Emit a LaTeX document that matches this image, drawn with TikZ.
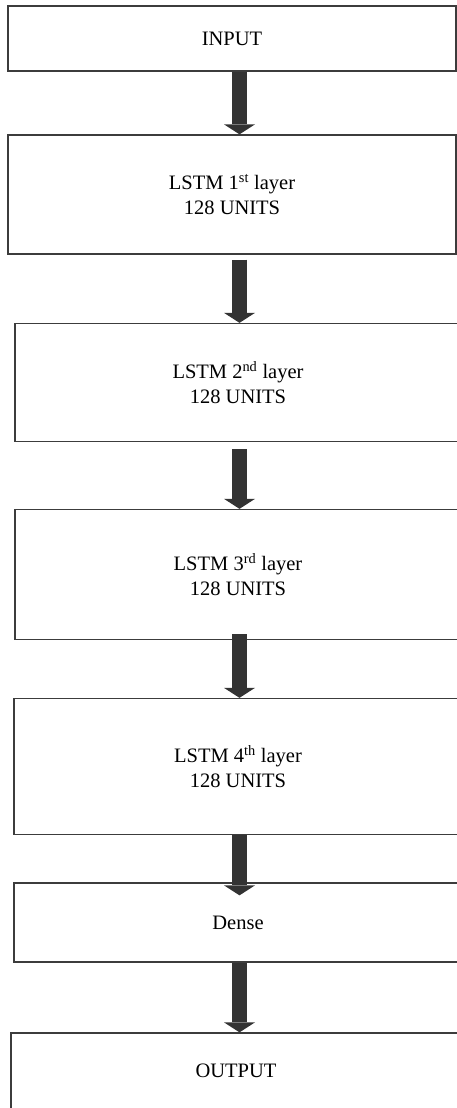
\documentclass[tikz,border=0pt]{standalone}
\usepackage{fontspec}
\setmainfont{Liberation Serif}
\usetikzlibrary{arrows.meta}
\definecolor{ink}{HTML}{333333}
\definecolor{edge}{HTML}{3C3C3C}
\tikzset{
  layerbox/.style={draw=edge, line width=1.3pt, rectangle, align=center,
    inner sep=0pt, font=\fontsize{20.5}{24.5}\selectfont},
  flow/.style={draw=ink, line width=15pt, line cap=butt,
    -{Triangle[width=31pt,length=10pt,line width=0pt,fill=ink]}}
}
\begin{document}
\begin{tikzpicture}[x=1pt,y=-1pt]
\useasboundingbox (0,0) rectangle (457,1108);
\clip (0,0) rectangle (457,1108);
% stacked network layers
\node[layerbox, minimum width=448pt, minimum height=65pt]  (in)    at (232,38.5)  {INPUT};
\node[layerbox, minimum width=448pt, minimum height=119pt] (l1)    at (232,194.5) {LSTM 1\textsuperscript{st} layer\\128 UNITS};
\node[layerbox, minimum width=446pt, minimum height=118pt] (l2)    at (238,382.5) {LSTM 2\textsuperscript{nd} layer\\128 UNITS};
\node[layerbox, minimum width=446pt, minimum height=130pt] (l3)    at (238,574.5) {LSTM 3\textsuperscript{rd} layer\\128 UNITS};
\node[layerbox, minimum width=448pt, minimum height=136pt] (l4)    at (238,766.5) {LSTM 4\textsuperscript{th} layer\\128 UNITS};
\node[layerbox, minimum width=448pt, minimum height=79pt]  (dense) at (238,922.5) {Dense};
\node[layerbox, minimum width=450pt, minimum height=76pt]  (out)   at (236,1071)  {OUTPUT};
% data flow
\coordinate (ax) at (239.5,0);
\draw[flow] (ax |- in.south) -- (ax |- l1.north);
\draw[flow, shorten <=5pt] (ax |- l1.south) -- (ax |- l2.north);
\draw[flow, shorten <=7pt] (ax |- l2.south) -- (ax |- l3.north);
\draw[flow, shorten <=-6pt] (ax |- l3.south) -- (ax |- l4.north);
\draw[flow, shorten >=-13pt] (ax |- l4.south) -- (ax |- dense.north);
\draw[flow] (ax |- dense.south) -- (ax |- out.north);
\end{tikzpicture}
\end{document}
